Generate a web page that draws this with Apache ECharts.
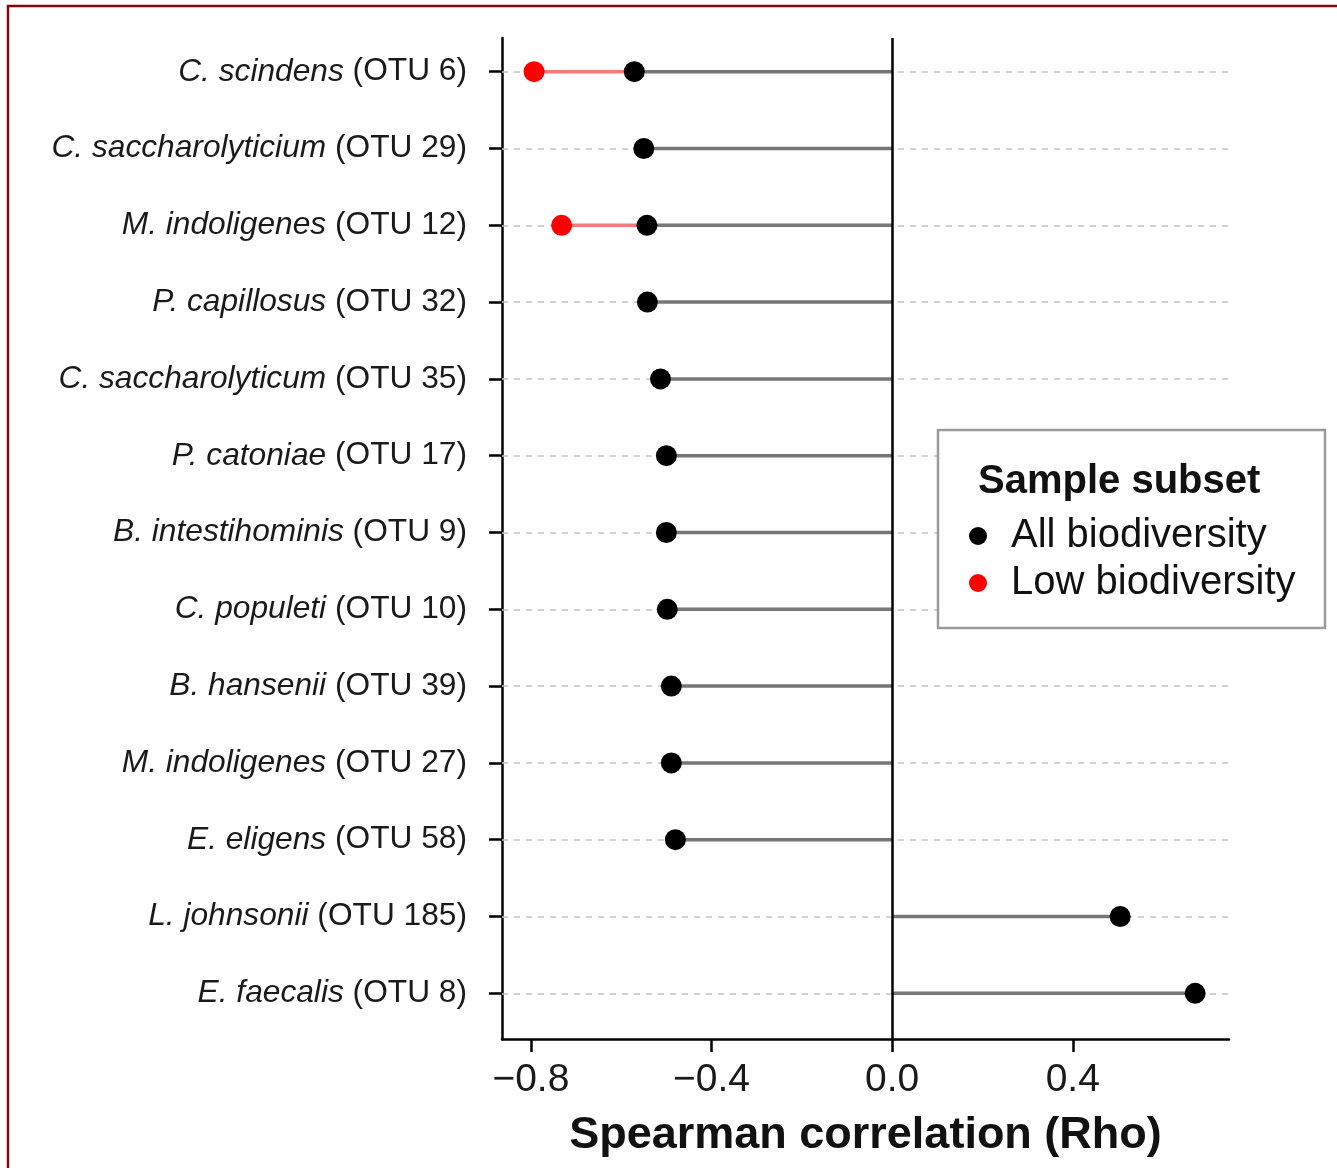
<!DOCTYPE html>
<html>
<head>
<meta charset="utf-8">
<script src="https://cdn.jsdelivr.net/npm/echarts@6/dist/echarts.min.js"></script>
<style>
    html, body { margin: 0; padding: 0; background: #fff; }
    #chart { width: 1337px; height: 1168px; }
</style>
</head>
<body>
<div id="chart"></div>
<script>
const species = [
    "C. scindens", "C. saccharolyticium", "M. indoligenes", "P. capillosus",
    "C. saccharolyticum", "P. catoniae", "B. intestihominis", "C. populeti",
    "B. hansenii", "M. indoligenes", "E. eligens", "L. johnsonii", "E. faecalis",
];
const otuList = [
    "OTU 6", "OTU 29", "OTU 12", "OTU 32", "OTU 35", "OTU 17", "OTU 9",
    "OTU 10", "OTU 39", "OTU 27", "OTU 58", "OTU 185", "OTU 8",
];
const allRho = [
    -0.571, -0.550, -0.543, -0.542, -0.513, -0.500, -0.500,
    -0.498, -0.489, -0.489, -0.480, 0.505, 0.671,
];
const lowRho = [
    -0.793, null, -0.732, null, null, null, null,
    null, null, null, null, null, null,
];
const xTicks = [-0.8, -0.4, 0.0, 0.4];
const xMin = -0.864;
const xMax = 0.746;

const font = "'Liberation Sans', Arial, Helvetica, sans-serif";
const cats = species.map((s, i) => String(i));

const fmtTick = (v) => (v < 0 ? "\u2212" : "") + Math.abs(v).toFixed(1);

const segData = allRho.map((v, i) => [i, v, lowRho[i] == null ? v : lowRho[i]]);

const renderSeg = (params, api) => {
    const yi = api.value(0);
    const p0 = api.coord([0, yi]);
    const p1 = api.coord([api.value(1), yi]);
    const p2 = api.coord([api.value(2), yi]);
    return {
        type: "group",
        children: [
            {
                type: "line",
                shape: { x1: p0[0], y1: p0[1], x2: p1[0], y2: p1[1] },
                style: { stroke: "#777777", lineWidth: 3.5 },
            },
            {
                type: "line",
                shape: { x1: p1[0], y1: p1[1], x2: p2[0], y2: p2[1] },
                style: { stroke: "#f77a7a", lineWidth: 3.5 },
            },
        ],
    };
};

let option = {
    animation: false,
    textStyle: { fontFamily: font },
    grid: [
        { left: 502, right: 108, top: 33.3, height: 998.4 },
        { left: 502, right: 108, top: 38, bottom: 129 },
    ],
    xAxis: [
        { type: "value", gridIndex: 0, min: xMin, max: xMax, show: false },
        {
            type: "value",
            gridIndex: 1,
            min: xMin,
            max: xMax,
            axisLine: { show: true, onZero: false, lineStyle: { color: "#000", width: 2.5 } },
            axisTick: {
                show: true,
                customValues: xTicks,
                length: 13,
                lineStyle: { color: "#000", width: 2.5 },
            },
            axisLabel: {
                customValues: xTicks,
                formatter: fmtTick,
                fontSize: 39,
                color: "#1a1a1a",
                margin: 22,
                fontFamily: font,
            },
            splitLine: { show: false },
            name: "Spearman correlation (Rho)",
            nameLocation: "middle",
            nameGap: 74,
            nameTextStyle: {
                fontSize: 45,
                fontWeight: "bold",
                color: "#111",
                fontFamily: font,
            },
        },
    ],
    yAxis: [
        {
            type: "category",
            gridIndex: 0,
            inverse: true,
            data: cats,
            axisLine: { show: false, onZero: false },
            axisTick: {
                show: true,
                alignWithLabel: true,
                length: 13,
                lineStyle: { color: "#000", width: 2.5 },
            },
            axisLabel: {
                margin: 35,
                fontSize: 31.7,
                color: "#1a1a1a",
                fontFamily: font,
                formatter: (v, i) => "{i|" + species[i] + "} (" + otuList[i] + ")",
                rich: {
                    i: {
                        fontStyle: "italic",
                        fontSize: 31.7,
                        color: "#1a1a1a",
                        fontFamily: font,
                    },
                },
            },
            splitLine: { show: false },
        },
        {
            type: "value",
            gridIndex: 1,
            min: 0,
            max: 1,
            axisLine: { show: true, onZero: false, lineStyle: { color: "#000", width: 2.5 } },
            axisTick: { show: false },
            axisLabel: { show: false },
            splitLine: { show: false },
        },
    ],
    legend: {
        data: ["All biodiversity", "Low biodiversity"],
        orient: "vertical",
        left: 969,
        top: 516,
        padding: 0,
        itemGap: 7,
        itemWidth: 56,
        itemHeight: 18,
        icon: "circle",
        z: 200,
        textStyle: { fontSize: 40, color: "#111", fontFamily: font },
    },
    graphic: [
        {
            type: "rect",
            z: 150,
            shape: { x: 938, y: 430, width: 387, height: 198 },
            style: { fill: "#fff", stroke: "#9a9a9a", lineWidth: 2.5 },
        },
        {
            type: "text",
            z: 151,
            x: 978,
            y: 482,
            style: {
                text: "Sample subset",
                font: "bold 40px " + font,
                fill: "#111",
                verticalAlign: "middle",
            },
        },
        {
            type: "rect",
            z: 300,
            shape: { x: 8, y: 6, width: 1400, height: 1300 },
            style: { fill: null, stroke: "#7f0a0a", lineWidth: 2.5 },
        },
    ],
    series: [
        {
            // dashed guide lines at each category
            type: "line",
            xAxisIndex: 0,
            yAxisIndex: 0,
            data: [],
            z: 1,
            markLine: {
                silent: true,
                z: 1,
                symbol: "none",
                label: { show: false },
                lineStyle: { color: "#c4c4c4", width: 1.5, type: [6, 6] },
                data: cats.map((c) => ({ yAxis: c })),
            },
        },
        {
            type: "custom",
            xAxisIndex: 0,
            yAxisIndex: 0,
            z: 2,
            renderItem: renderSeg,
            encode: { x: [1, 2], y: 0 },
            data: segData,
        },
        {
            // zero line
            type: "line",
            xAxisIndex: 1,
            yAxisIndex: 1,
            data: [],
            z: 3,
            markLine: {
                silent: true,
                z: 3,
                symbol: "none",
                label: { show: false },
                lineStyle: { color: "#000", width: 2.5, type: "solid" },
                data: [{ xAxis: 0 }],
            },
        },
        {
            name: "All biodiversity",
            type: "scatter",
            xAxisIndex: 0,
            yAxisIndex: 0,
            z: 4,
            symbolSize: 21,
            itemStyle: { color: "#000", opacity: 1 },
            data: allRho.map((v, i) => [v, i]),
        },
        {
            name: "Low biodiversity",
            type: "scatter",
            xAxisIndex: 0,
            yAxisIndex: 0,
            z: 4,
            symbolSize: 21,
            itemStyle: { color: "#ff0000", opacity: 1 },
            data: lowRho.map((v, i) => [v, i]).filter((d) => d[0] != null),
        },
    ],
};

let myChart = echarts.init(document.getElementById("chart"));
myChart.setOption(option);
</script>
</body>
</html>
